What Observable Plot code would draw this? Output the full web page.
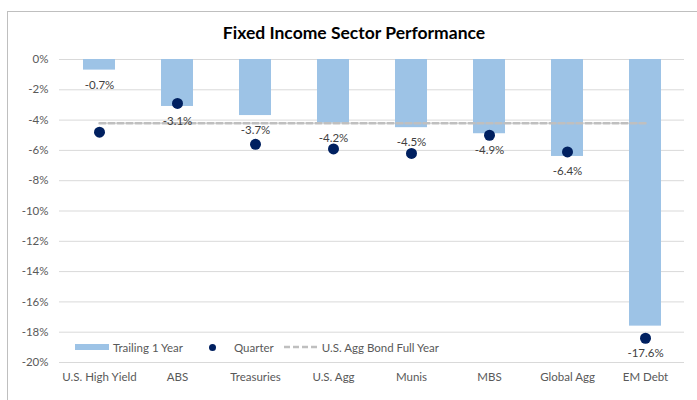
<!DOCTYPE html>
<html>
<head>
<meta charset="utf-8">
<script src="https://cdn.jsdelivr.net/npm/d3@7"></script>
<script src="https://cdn.jsdelivr.net/npm/@observablehq/plot@0.6"></script>
<style>
  body { margin: 0; background: #fff; font-family: Lato, "Open Sans", sans-serif; }
  #wrap { position: relative; width: 697px; height: 400px; overflow: hidden; }
  #border { position: absolute; left: 7px; top: 11px; width: 800px; height: 500px; border-left: 1px solid #BFBFBF; border-top: 1px solid #BFBFBF; }
  #title { position: absolute; left: 0; width: 708px; top: 22px; text-align: center; font-weight: bold; font-size: 17.5px; color: #000; }
  #legend { position: absolute; left: 75px; top: 339px; height: 16px; display: flex; align-items: center; font-size: 11.5px; color: #595959; }
  .sw { display: inline-block; }
  #chart { position: absolute; left: 0; top: 0; }
</style>
</head>
<body>
<div id="wrap">
  <div id="border"></div>
  <div id="chart"></div>
  <div id="title">Fixed Income Sector Performance</div>
  <div id="legend">
    <span class="sw" style="width:34px;height:6px;background:#9DC3E6;margin-right:4px"></span><span>Trailing 1 Year</span>
    <span class="sw" style="width:7px;height:7px;border-radius:50%;background:#002060;margin-left:26px;margin-right:18px"></span><span>Quarter</span>
    <svg width="36" height="6" style="margin-left:10px;margin-right:2px"><line x1="0" y1="3" x2="36" y2="3" stroke="#BFBFBF" stroke-width="2.5" stroke-dasharray="6,3"/></svg><span>U.S. Agg Bond Full Year</span>
  </div>
</div>
<script>
const categories = ["U.S. High Yield", "ABS", "Treasuries", "U.S. Agg", "Munis", "MBS", "Global Agg", "EM Debt"];
const trailing1Year = [-0.7, -3.1, -3.7, -4.2, -4.5, -4.9, -6.4, -17.6];
const quarter = [-4.8, -2.9, -5.6, -5.9, -6.2, -5.0, -6.1, -18.4];
const aggBondFullYear = -4.2;
const yTicks = [0, -2, -4, -6, -8, -10, -12, -14, -16, -18, -20];

const data = categories.map((c, i) => ({
  cat: c,
  t1y: trailing1Year[i],
  q: quarter[i],
  // label sits below the bar end, or below the dot when the dot is right under the bar end
  labelY: (quarter[i] < trailing1Year[i] && trailing1Year[i] - quarter[i] < 1) ? quarter[i] : trailing1Year[i]
}));

const chart = Plot.plot({
  width: 697,
  height: 400,
  marginLeft: 59,
  marginRight: 13,
  marginTop: 59,
  marginBottom: 38,
  style: { fontFamily: "Lato, 'Open Sans', sans-serif", fontSize: "11.5px", color: "#595959", background: "transparent" },
  x: { domain: categories, paddingInner: 0.59, paddingOuter: 0.295, label: null },
  y: { domain: [-20, 0], label: null },
  marks: [
    Plot.ruleY(yTicks, { stroke: "#D9D9D9", strokeWidth: 1 }),
    Plot.barY(data, { x: "cat", y1: 0, y2: "t1y", fill: "#9DC3E6" }),
    Plot.lineY(data, { x: "cat", y: () => aggBondFullYear, stroke: "#BFBFBF", strokeWidth: 2.5, strokeDasharray: "6,3" }),
    Plot.dot(data, { x: "cat", y: "q", r: 5.5, fill: "#002060" }),
    Plot.text(data, { x: "cat", y: "labelY", text: d => `${d.t1y.toFixed(1)}%`, dy: 15, fill: "#404040", fontSize: 11.5 }),
    Plot.axisY({ ticks: yTicks, tickFormat: d => `${d}%`, tickSize: 0, tickPadding: 11, fill: "#595959", fontSize: 11.5 }),
    Plot.axisX({ tickSize: 0, tickPadding: 10, fill: "#595959", fontSize: 11.5 })
  ]
});
document.getElementById("chart").appendChild(chart);
</script>
</body>
</html>
